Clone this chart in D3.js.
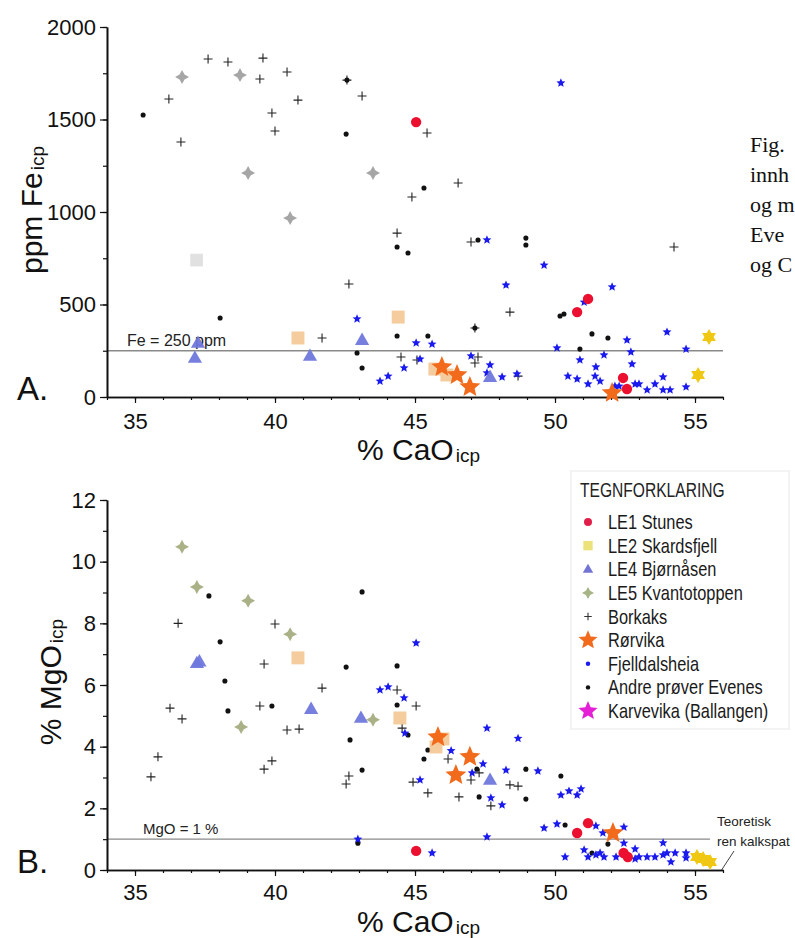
<!DOCTYPE html>
<html><head><meta charset="utf-8">
<script src="https://cdn.jsdelivr.net/npm/d3@7"></script>
<style>body{margin:0;background:#fff;} svg{display:block;font-family:"Liberation Sans",Arial,sans-serif;}</style>
</head><body>
<svg id="c" width="795" height="938"></svg>
<script>
// ---------- DATA (CaO %, value) ----------
// Panel A: Fe (ppm)
const stunesFe = [[45.04,1486],[51.18,530],[50.79,459],[52.43,103],[52.57,43]];
const skardsfjellFe = [[55.5,324],[55.11,119]];
const peachFe = [[40.82,319],[44.4,432],[45.71,151],[46.14,119]];
const fadedFe = [[37.2,740]];
const bjornasenFe = [[37.14,211],[37.25,292],[41.25,222],[43.11,308],[47.68,108]];
const kvantoFe = [[36.68,1730],[38.75,1740],[39.04,1211],[43.5,1211],[40.54,967]];
const borkaksFe = [[37.61,1827],[38.32,1811],[39.57,1832],[40.43,1757],[39.46,1719],[42.57,1713],[40.82,1605],[39.89,1535],[40.0,1438],[36.64,1378],[36.21,1611],[43.11,1627],[45.43,1427],[46.54,1157],[44.89,1081],[44.36,886],[47.0,838],[42.64,611],[41.68,319],[48.39,459],[47.14,373],[44.5,216],[45.07,200],[47.25,216],[47.14,184],[48.68,113],[54.25,811]];
const rorvikaFe = [[45.96,162],[46.5,119],[46.96,54],[52.04,22]];
const fjelldalFe = [[42.93,422],[43.75,86],[44.04,113],[47.57,849],[50.21,1697],[49.61,713],[48.25,605],[52.04,595],[51.04,513],[54.0,351],[45.04,292],[45.61,286],[52.57,308],[50.07,265],[52.71,243],[54.68,259],[51.75,227],[50.89,200],[47.0,222],[45.18,205],[52.75,178],[51.46,162],[47.68,173],[44.61,157],[47.57,130],[48.11,108],[48.64,124],[50.46,113],[50.79,97],[51.43,113],[51.61,86],[51.18,70],[52.14,59],[52.29,59],[52.86,70],[53.0,70],[53.29,38],[53.57,70],[53.86,108],[53.86,38],[54.11,38],[54.68,54]];
const andreFe = [[35.29,1524],[42.57,1713],[42.54,1421],[45.32,1130],[44.36,811],[44.75,778],[47.25,849],[48.96,859],[48.96,822],[38.04,427],[42.93,238],[43.11,157],[44.36,330],[45.46,330],[50.18,438],[50.32,449],[51.32,341],[51.89,319],[50.89,259],[47.14,373]];

// Panel B: MgO (%)
const stunesMg = [[51.18,1.52],[50.79,1.2],[45.04,0.62],[52.45,0.55],[52.6,0.42]];
const skardsfjellMg = [[55.07,0.42],[55.29,0.36],[55.54,0.26]];
const peachMg = [[40.82,6.88],[44.46,4.93],[46.0,4.25],[45.75,3.99]];
const bjornasenMg = [[37.21,6.71],[37.3,6.76],[41.29,5.22],[43.07,4.93],[47.68,2.92]];
const kvantoMg = [[36.68,10.48],[37.21,9.18],[39.04,8.73],[40.54,7.65],[38.79,4.64],[43.5,4.87]];
const borkaksMg = [[36.54,8.0],[40.0,7.98],[39.61,6.68],[41.68,5.9],[44.36,5.84],[36.25,5.25],[36.68,4.9],[39.46,5.32],[40.43,4.54],[40.86,4.57],[45.04,5.32],[44.54,4.6],[35.82,3.67],[35.57,3.02],[39.89,3.54],[39.61,3.27],[42.64,3.05],[42.54,2.79],[44.93,2.85],[45.46,2.5],[46.18,3.6],[47.29,3.15],[47.0,2.92],[46.57,2.37],[47.71,2.08],[48.39,2.76],[48.68,2.72]];
const rorvikaMg = [[45.82,4.31],[46.96,3.67],[46.46,3.08],[52.07,1.2]];
const fjelldalMg = [[45.04,7.36],[43.75,5.84],[44.04,5.94],[44.61,5.58],[44.64,4.44],[45.18,2.92],[47.57,4.6],[48.68,4.27],[46.29,3.87],[47.43,3.44],[47.04,3.15],[48.25,3.24],[49.39,3.21],[47.71,2.34],[48.11,2.11],[50.21,2.43],[50.5,2.56],[50.79,2.43],[50.93,2.63],[47.57,1.07],[49.61,1.36],[50.07,1.49],[51.46,1.43],[51.71,1.2],[52.46,1.39],[45.61,0.55],[50.36,0.42],[51.04,0.65],[51.18,0.42],[51.46,0.49],[51.61,0.55],[51.75,0.42],[52.18,0.42],[52.46,0.87],[52.86,0.68],[52.86,0.36],[53.0,0.42],[53.29,0.42],[53.57,0.42],[53.86,0.88],[53.86,0.49],[54.0,0.55],[54.14,0.26],[54.29,0.55],[54.68,0.55],[54.68,0.39],[42.96,1.0]];
const andreMg = [[37.64,8.89],[43.11,9.02],[38.04,7.4],[42.54,6.58],[44.36,6.62],[38.21,6.13],[44.36,5.35],[38.32,5.16],[39.89,5.32],[44.75,4.38],[42.68,4.22],[45.46,3.89],[45.32,3.6],[43.11,3.24],[47.21,3.27],[48.96,3.27],[50.21,3.05],[47.29,2.37],[48.96,2.3],[50.36,1.46],[51.89,0.84],[51.32,0.55],[42.96,0.87]];

// axes / labels
const xTicks = [35,40,45,50,55];
const feTicks = [0,500,1000,1500,2000];
const mgTicks = [0,2,4,6,8,10,12];
const feLimit = 250, mgLimit = 1;
const legendLabels = ["LE1 Stunes","LE2 Skardsfjell","LE4 Bjørnåsen","LE5 Kvantotoppen","Borkaks","Rørvika","Fjelldalsheia","Andre prøver Evenes","Karvevika (Ballangen)"];
const captionLines = ["Fig.","innh","og m","Eve","og C"];

// ---------- SYMBOLS ----------
const symCross = {draw(c,s){const r=Math.sqrt(s);c.moveTo(-r,0);c.lineTo(r,0);c.moveTo(0,-r);c.lineTo(0,r);}};
const symHex = {draw(c,s){const r=Math.sqrt(s);for(let t=0;t<2;t++){for(let i=0;i<3;i++){const a=t*Math.PI/3-Math.PI/2+i*2*Math.PI/3;const px=r*Math.cos(a),py=r*Math.sin(a);i?c.lineTo(px,py):c.moveTo(px,py);}c.closePath();}}};
const symStar4 = {draw(c,s){const r=Math.sqrt(s),ri=r*0.5;for(let i=0;i<8;i++){const a=-Math.PI/2+i*Math.PI/4;const rr=i%2?ri:r;const px=rr*Math.cos(a),py=rr*Math.sin(a);i?c.lineTo(px,py):c.moveTo(px,py);}c.closePath();}};
const symStar5 = {draw(c,s){const r=Math.sqrt(s),ri=r*0.45;for(let i=0;i<10;i++){const a=-Math.PI/2+i*Math.PI/5;const rr=i%2?ri:r;const px=rr*Math.cos(a),py=rr*Math.sin(a);i?c.lineTo(px,py):c.moveTo(px,py);}c.closePath();}};
const symTri = {draw(c,s){const r=Math.sqrt(s);c.moveTo(0,-r);c.lineTo(r*0.95,r*0.65);c.lineTo(-r*0.95,r*0.65);c.closePath();}};
const symSq = {draw(c,s){const r=Math.sqrt(s);c.moveTo(-r,-r);c.lineTo(r,-r);c.lineTo(r,r);c.lineTo(-r,r);c.closePath();}};
const symCirc = {draw(c,s){const r=Math.sqrt(s);c.moveTo(r,0);c.arc(0,0,r,0,2*Math.PI);}};

const svg = d3.select("#c");
const FONT = '"Liberation Sans",Arial,sans-serif';

function plotSeries(g, data, x, y, type, r2, fill, stroke, sw, opacity){
  g.append("g").selectAll("path").data(data).join("path")
    .attr("transform", d => `translate(${x(d[0])},${y(d[1])})`)
    .attr("d", d3.symbol().type(type).size(r2))
    .attr("fill", fill).attr("stroke", stroke||"none").attr("stroke-width", sw||0)
    .attr("opacity", opacity==null?1:opacity);
}

function panel(opt){
  const x = d3.scaleLinear().domain([34,56]).range([107,723]);
  const y = d3.scaleLinear().domain(opt.ydom).range([opt.y0, opt.y1]);
  const g = svg.append("g");

  // reference line
  g.append("line").attr("x1",x(34)).attr("x2",opt.lineEnd).attr("y1",y(opt.limit)).attr("y2",y(opt.limit))
    .attr("stroke","#8a8a8a").attr("stroke-width",1.4);
  g.append("text").attr("x",opt.limitLabelX).attr("y",y(opt.limit)-5).text(opt.limitLabel)
    .attr("font-size",opt.limitFont).attr("fill","#222").attr("font-family",FONT);

  // axes
  g.append("g").attr("transform",`translate(0,${opt.y0})`)
    .call(d3.axisBottom(x).tickValues(xTicks).tickFormat(d3.format("d")).tickSize(6).tickSizeOuter(0).tickPadding(opt.xPad));
  g.append("g").attr("transform",`translate(0,${opt.y0})`)
    .call(d3.axisBottom(x).tickValues(d3.range(34,57,1)).tickSize(3).tickSizeOuter(0).tickFormat(""));
  g.append("g").attr("transform",`translate(107,0)`)
    .call(d3.axisLeft(y).tickValues(opt.yTicks).tickFormat(d3.format("d")).tickSize(7).tickSizeOuter(0).tickPadding(4));
  g.append("g").attr("transform",`translate(107,0)`)
    .call(d3.axisLeft(y).tickValues(opt.yMinor).tickSize(4).tickSizeOuter(0).tickFormat(""));
  g.selectAll(".domain").attr("stroke","#111").attr("stroke-width",1.6);
  g.selectAll(".tick line").attr("stroke","#111").attr("stroke-width",1.2);
  g.selectAll(".tick text").attr("font-size",22).attr("font-family",FONT).attr("fill","#111");

  // series
  const d = opt.data;
  if (d.faded) plotSeries(g,d.faded,x,y,symSq,40,"#dadada",null,0,0.8);
  plotSeries(g,d.borkaks,x,y,symCross,20,"none","#222",1.1);
  plotSeries(g,d.andre,x,y,symCirc,6.5,"#111");
  plotSeries(g,d.fjell,x,y,symStar5,22,"#1a1aee");
  plotSeries(g,d.kvanto,x,y,symStar4,49,opt.kvColor,null,0,0.9);
  plotSeries(g,d.peach,x,y,symSq,42,"#f4c693",null,0,0.9);
  plotSeries(g,d.bjorn,x,y,symTri,56,"#6f78dc",null,0,0.95);
  plotSeries(g,d.skard,x,y,symHex,64,"#f0c814");
  plotSeries(g,d.stunes,x,y,symCirc,27,"#ec1030");
  plotSeries(g,d.rorvika,x,y,symStar5,121,"#f26a1b");

  // panel letter
  g.append("text").attr("x",17).attr("y",opt.letterY).text(opt.letter)
    .attr("font-size",33).attr("font-family",FONT).attr("fill","#111");
  // x title
  const xt = g.append("text").attr("x",357).attr("y",opt.xTitleY).attr("font-family",FONT).attr("fill","#111");
  xt.append("tspan").attr("font-size",30).text("% CaO");
  xt.append("tspan").attr("font-size",19).attr("dx",2).attr("dy",2).text("icp");
  // y title
  const yt = g.append("text").attr("transform",`translate(${opt.yTitleX},${opt.yTitleMid}) rotate(-90)`)
    .attr("text-anchor","middle").attr("font-family",FONT).attr("fill","#111");
  yt.append("tspan").attr("font-size",30).text(opt.yTitle);
  yt.append("tspan").attr("font-size",19).attr("dx",2).attr("dy",2).text("icp");
  return {x,y,g};
}

panel({ydom:[0,2000], y0:397, y1:27, yTicks:feTicks, yMinor:d3.range(0,2001,250),
  limit:feLimit, limitLabel:"Fe = 250 ppm", limitLabelX:127, limitFont:16, lineEnd:723, xPad:10,
  letter:"A.", letterY:400, xTitleY:460, yTitle:"ppm Fe", yTitleX:42, yTitleMid:210, kvColor:"#9c9c9c",
  data:{stunes:stunesFe,skard:skardsfjellFe,peach:peachFe,faded:fadedFe,bjorn:bjornasenFe,kvanto:kvantoFe,borkaks:borkaksFe,rorvika:rorvikaFe,fjell:fjelldalFe,andre:andreFe}});

const pb = panel({ydom:[0,12], y0:870, y1:500, yTicks:mgTicks, yMinor:d3.range(0,13,1),
  limit:mgLimit, limitLabel:"MgO = 1 %", limitLabelX:143, limitFont:15, lineEnd:710, xPad:8,
  letter:"B.", letterY:873, xTitleY:932, yTitle:"% MgO", yTitleX:61, yTitleMid:682, kvColor:"#a2a87a",
  data:{stunes:stunesMg,skard:skardsfjellMg,peach:peachMg,bjorn:bjornasenMg,kvanto:kvantoMg,borkaks:borkaksMg,rorvika:rorvikaMg,fjell:fjelldalMg,andre:andreMg}});

// Teoretisk annotation
const ann = svg.append("g").attr("font-family",FONT).attr("font-size",13.5).attr("fill","#222");
ann.append("text").attr("x",717).attr("y",826).text("Teoretisk");
ann.append("text").attr("x",717).attr("y",846).text("ren kalkspat");
svg.append("line").attr("x1",734).attr("y1",851).attr("x2",pb.x(55.95)).attr("y2",pb.y(0))
  .attr("stroke","#444").attr("stroke-width",1);

// ---------- LEGEND ----------
const lg = svg.append("g").attr("font-family",FONT);
lg.append("rect").attr("x",571).attr("y",471).attr("width",218).attr("height",258)
  .attr("fill","#fff").attr("stroke","#ececec").attr("stroke-width",1.2);
lg.append("text").attr("transform","translate(580,497) scale(0.78,1)")
  .attr("font-size",20).attr("fill","#222").text("TEGNFORKLARING");
const legSyms = [
  [symCirc,16,"#e0204a",null],
  [symSq,22,"#ece27c",null],
  [symTri,30,"#7474d4",null],
  [symStar4,36,"#a6b486",null],
  [symCross,14,"none","#333"],
  [symStar5,100,"#f26a1b",null],
  [symCirc,5,"#1a1aee",null],
  [symCirc,5,"#111",null],
  [symStar5,100,"#e41fd6",null]
];
const rowY = d3.scalePoint().domain(legendLabels).range([522,711]);
const rows = lg.selectAll("g.row").data(legendLabels).join("g").attr("class","row")
  .attr("transform", d => `translate(0,${rowY(d)})`);
rows.append("path").attr("transform","translate(588,0)")
  .attr("d",(d,i)=>d3.symbol().type(legSyms[i][0]).size(legSyms[i][1])())
  .attr("fill",(d,i)=>legSyms[i][2]).attr("stroke",(d,i)=>legSyms[i][3]||"none").attr("stroke-width",1.1);
rows.append("text").attr("transform","translate(608,7) scale(0.82,1)")
  .attr("font-size",20).attr("fill","#1a1a1a").text(d=>d);

// ---------- caption fragment (right edge) ----------
svg.append("g").selectAll("text").data(captionLines).join("text")
  .attr("x",750).attr("y",(d,i)=>152+i*30).text(d=>d)
  .attr("font-family",'"Liberation Serif","Times New Roman",serif').attr("font-size",22).attr("fill","#111");
</script>
</body></html>
